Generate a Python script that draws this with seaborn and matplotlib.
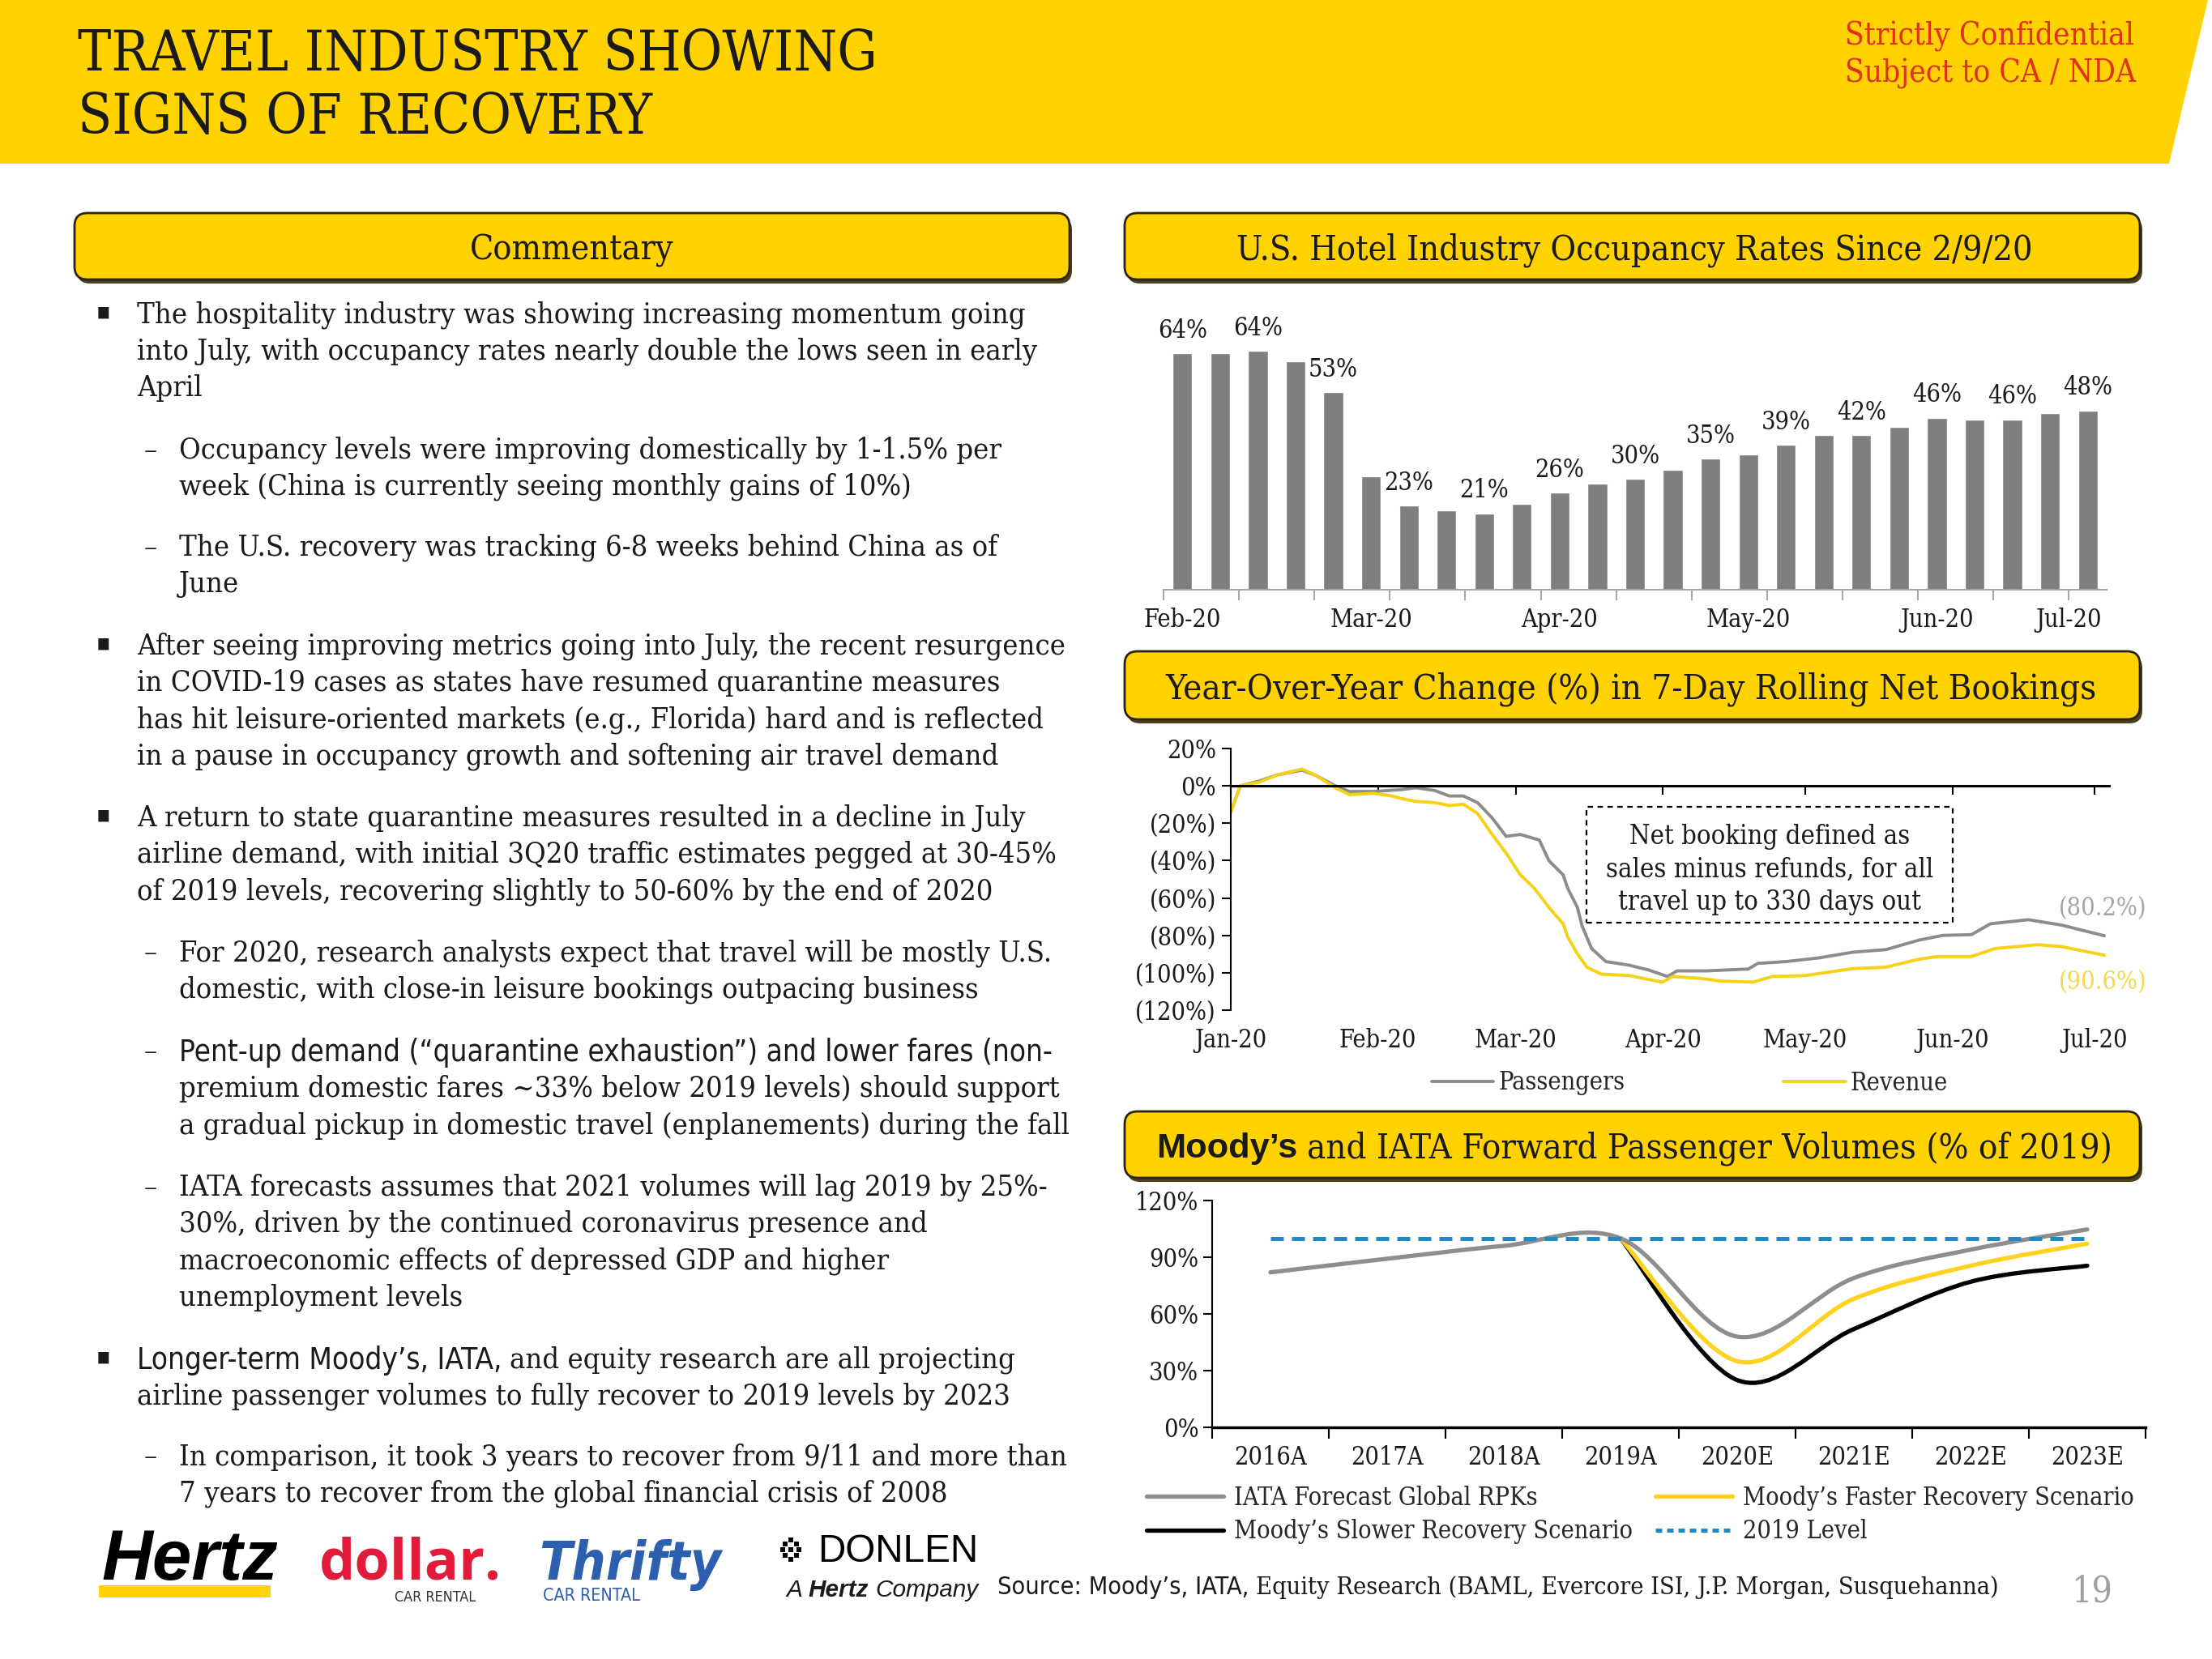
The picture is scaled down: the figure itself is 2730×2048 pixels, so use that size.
import os
import numpy as np
import pandas as pd
import matplotlib
matplotlib.use("Agg")
import matplotlib.pyplot as plt
import matplotlib.transforms as mtransforms
import matplotlib.dates as mdates
import matplotlib.font_manager as fm
from matplotlib.patches import FancyBboxPatch, Polygon, Rectangle, PathPatch
from matplotlib.path import Path
from matplotlib.lines import Line2D
import seaborn as sns

# ============================ DATA ============================
# U.S. hotel occupancy (weekly, since 2/9/20), %
hotel_periods = [f"Wk{i + 1}" for i in range(25)]
hotel_occ = [63.6, 63.6, 64.3, 61.5, 53.2, 30.5, 22.6, 21.3, 20.6, 23.1, 26.1, 28.6, 29.8,
             32.2, 35.3, 36.4, 39.0, 41.6, 41.6, 43.9, 46.3, 45.8, 45.8, 47.5, 48.2]
hotel_month_labels = ["Feb-20", "Mar-20", "Apr-20", "May-20", "Jun-20", "Jul-20"]

# YoY change in 7-day rolling net bookings, %
pass_dates = ["01-01", "01-03", "01-07", "01-11", "01-16", "01-19", "01-23", "01-26", "01-31",
              "02-03", "02-06", "02-09", "02-13", "02-16", "02-19", "02-22", "02-25", "02-28",
              "03-02", "03-06", "03-08", "03-11", "03-12", "03-14", "03-15", "03-17", "03-20",
              "03-25", "03-29", "04-02", "04-04", "04-10", "04-19", "04-21", "04-27", "05-04",
              "05-11", "05-18", "05-25", "05-30", "06-05", "06-09", "06-17", "06-24", "07-03"]
pass_vals = [-14, 0, 2.6, 6, 8.4, 5.5, 0, -3, -3,
             -2.5, -2, -1, -2.5, -5.4, -5.4, -9, -17, -27,
             -26, -29, -40, -47.6, -55, -65, -75, -87, -94,
             -96, -98.5, -102, -99, -99, -98, -95, -94, -92,
             -89, -87.6, -82.5, -80, -79.6, -73.8, -71.6, -74.5, -80.2]
rev_dates = ["01-01", "01-03", "01-07", "01-11", "01-16", "01-19", "01-23", "01-26", "01-31",
             "02-04", "02-06", "02-09", "02-13", "02-16", "02-19", "02-22", "02-25", "02-28",
             "03-02", "03-05", "03-08", "03-11", "03-12", "03-14", "03-16", "03-19", "03-25",
             "03-29", "04-01", "04-03", "04-09", "04-13", "04-20", "04-24", "05-01", "05-05",
             "05-11", "05-18", "05-25", "05-29", "06-05", "06-10", "06-19", "06-24", "07-03"]
rev_vals = [-14, 0, 2, 6, 9, 5.5, -1, -4.7, -4,
            -5.4, -6.8, -8.3, -9, -10.5, -9.8, -14.8, -25.8, -36,
            -47.6, -55, -65, -73.8, -81, -89.8, -97, -100.7, -101.5,
            -103.6, -105, -102, -103, -104.4, -105, -102, -101.5, -100,
            -97.8, -97, -92.7, -91.3, -91.3, -87, -85, -86, -90.6]
booking_months = ["2020-01-01", "2020-02-01", "2020-03-01", "2020-04-01",
                  "2020-05-01", "2020-06-01", "2020-07-01"]
booking_month_labels = ["Jan-20", "Feb-20", "Mar-20", "Apr-20", "May-20", "Jun-20", "Jul-20"]
booking_yticks = [20, 0, -20, -40, -60, -80, -100, -120]

# Moody's / IATA forward passenger volumes, % of 2019
years = ["2016A", "2017A", "2018A", "2019A", "2020E", "2021E", "2022E", "2023E"]
iata_rpk = [82, 89.2, 96, 100, 48, 79, 94, 104.7]
moodys_faster = [None, None, None, 100, 35, 68, 85.5, 97.2]
moodys_slower = [None, None, None, 100, 25, 52, 77, 85.5]
level_2019 = [100, 100, 100, 100, 100, 100, 100, 100]
volume_yticks = [0, 30, 60, 90, 120]

commentary = [
    (0, ["The hospitality industry was showing increasing momentum going",
         "into July, with occupancy rates nearly double the lows seen in early",
         "April"]),
    (1, ["Occupancy levels were improving domestically by 1-1.5% per",
         "week (China is currently seeing monthly gains of 10%)"]),
    (1, ["The U.S. recovery was tracking 6-8 weeks behind China as of",
         "June"]),
    (0, ["After seeing improving metrics going into July, the recent resurgence",
         "in COVID-19 cases as states have resumed quarantine measures",
         "has hit leisure-oriented markets (e.g., Florida) hard and is reflected",
         "in a pause in occupancy growth and softening air travel demand"]),
    (0, ["A return to state quarantine measures resulted in a decline in July",
         "airline demand, with initial 3Q20 traffic estimates pegged at 30-45%",
         "of 2019 levels, recovering slightly to 50-60% by the end of 2020"]),
    (1, ["For 2020, research analysts expect that travel will be mostly U.S.",
         "domestic, with close-in leisure bookings outpacing business"]),
    (1, ["Pent-up demand (\u201cquarantine exhaustion\u201d) and lower fares (non-",
         "premium domestic fares ~33% below 2019 levels) should support",
         "a gradual pickup in domestic travel (enplanements) during the fall"]),
    (1, ["IATA forecasts assumes that 2021 volumes will lag 2019 by 25%-",
         "30%, driven by the continued coronavirus presence and",
         "macroeconomic effects of depressed GDP and higher",
         "unemployment levels"]),
    (0, ["Longer-term Moody\u2019s, IATA, and equity research are all projecting",
         "airline passenger volumes to fully recover to 2019 levels by 2023"]),
    (1, ["In comparison, it took 3 years to recover from 9/11 and more than",
         "7 years to recover from the global financial crisis of 2008"]),
]
sans_full_line = "Pent-up demand (\u201cquarantine exhaustion\u201d) and lower fares (non-"
sans_prefix = "Longer-term Moody\u2019s, IATA,"

# ============================ STYLE ============================
YELLOW = "#FFD200"
BAR_GRAY = "#7F7F7F"
PASS_GRAY = "#8C8C8C"
REV_YELLOW = "#F7D117"
IATA_GRAY = "#8E8E8E"
FAST_YELLOW = "#FFD21E"
BLUE = "#1F88C6"
RED = "#E0301E"
TXT = "#1A1A1A"

sns.set_theme(style="white")


def _find(names):
    for f in fm.fontManager.ttflist:
        if os.path.basename(f.fname) in names:
            return f.fname
    return None


SERIF_FILE = _find({"DejaVuSerifCondensed.ttf"})
NARROW_FILE = _find({"LiberationSansNarrow-Regular.ttf"})
NARROW_FALLBACK = _find({"DejaVuSansCondensed.ttf"})


def SERIF(size):
    if SERIF_FILE:
        return fm.FontProperties(fname=SERIF_FILE, size=size)
    return fm.FontProperties(family="Liberation Serif", size=size)


def NARROW(size):
    f = NARROW_FILE or NARROW_FALLBACK
    if f:
        return fm.FontProperties(fname=f, size=size)
    return fm.FontProperties(family="Liberation Sans", size=size)


def SANS(size, weight="normal", style="normal", family="Liberation Sans"):
    return fm.FontProperties(family=family, size=size, weight=weight, style=style)


if SERIF_FILE:
    plt.rcParams["font.family"] = [fm.FontProperties(fname=SERIF_FILE).get_name(), "DejaVu Sans"]
    plt.rcParams["font.stretch"] = "condensed"
else:
    plt.rcParams["font.family"] = ["Liberation Serif", "DejaVu Sans"]

W, H = 2730, 2048
fig = plt.figure(figsize=(W / 100, H / 100), dpi=100)
fig.patch.set_facecolor("white")
PX = mtransforms.Affine2D().scale(0.01, -0.01).translate(0, H / 100) + fig.dpi_scale_trans
renderer = fig.canvas.get_renderer()


def ax_px(x0, y0, x1, y1):
    return fig.add_axes([x0 / W, 1 - y1 / H, (x1 - x0) / W, (y1 - y0) / H])


def fit(t, target):
    w = t.get_window_extent(renderer).width
    t.set_fontsize(t.get_fontsize() * target / w)
    return t.get_fontsize()


def place_runs(runs, y, target_w=None, x=None, center=None, va="center_baseline"):
    texts = [fig.text(0, y, s, fontproperties=fp, color=c, transform=PX,
                      ha="left", va=va, zorder=6) for s, fp, c in runs]

    def gaps():
        return [0] + [0.27 * t.get_fontsize() * 100 / 72 for t in texts[1:]]

    def widths():
        return [t.get_window_extent(renderer).width for t in texts]

    if target_w:
        k = target_w / (sum(widths()) + sum(gaps()))
        for t in texts:
            t.set_fontsize(t.get_fontsize() * k)
    ws, gs = widths(), gaps()
    total = sum(ws) + sum(gs)
    cx = x if x is not None else center - total / 2
    for t, w, g in zip(texts, ws, gs):
        cx += g
        t.set_x(cx)
        cx += w
    return texts


# ============================ HEADER ============================
fig.add_artist(Polygon([(0, 0), (2725, 0), (2677, 202), (0, 202)], closed=True,
                       transform=PX, facecolor=YELLOW, edgecolor="none", zorder=0))
t1 = fig.text(96, 87, "TRAVEL INDUSTRY SHOWING", transform=PX, fontproperties=SERIF(50),
              color=TXT, va="baseline", ha="left")
ts = fit(t1, 987)
fig.text(96, 165, "SIGNS OF RECOVERY", transform=PX, fontproperties=SERIF(ts),
         color=TXT, va="baseline", ha="left")
s1 = fig.text(2277, 55, "Strictly Confidential", transform=PX, fontproperties=SERIF(20),
              color=RED, va="baseline", ha="left")
ss = fit(s1, 357)
fig.text(2277, 102, "Subject to CA / NDA", transform=PX, fontproperties=SERIF(ss),
         color=RED, va="baseline", ha="left")


def header_box(x0, y0, x1, y1):
    fig.add_artist(FancyBboxPatch((x0 + 3, y0 + 5), x1 - x0, y1 - y0,
                                  boxstyle="round,pad=0,rounding_size=16", transform=PX,
                                  facecolor="#4d3f1c", edgecolor="none", zorder=1))
    fig.add_artist(FancyBboxPatch((x0, y0), x1 - x0, y1 - y0,
                                  boxstyle="round,pad=0,rounding_size=16", transform=PX,
                                  facecolor=YELLOW, edgecolor="#2d2410", linewidth=2, zorder=2))


header_box(92, 263, 1320, 345)
header_box(1388, 263, 2641, 345)
header_box(1388, 804, 2641, 888)
header_box(1388, 1372, 2641, 1454)

place_runs([("Commentary", SERIF(26), TXT)], 304, target_w=252, center=706)
place_runs([("U.S. Hotel Industry Occupancy Rates Since 2/9/20", SERIF(26), TXT)], 304,
           target_w=984, center=2017)
place_runs([("Year-Over-Year Change (%) in 7-Day Rolling Net Bookings", SERIF(26), TXT)], 846,
           target_w=1149, center=2013)
place_runs([("Moody\u2019s", SANS(26, weight="bold"), TXT),
            ("and IATA Forward Passenger Volumes (% of 2019)", SERIF(26), TXT)], 1413,
           target_w=1179, center=2017)

# ============================ COMMENTARY ============================
probe = fig.text(0, 0, commentary[0][1][0], fontproperties=SERIF(24), transform=PX)
COMM = fit(probe, 1099)
probe.remove()
probe = fig.text(0, 0, sans_full_line, fontproperties=NARROW(24), transform=PX)
COMM_SANS = fit(probe, 1081)
probe.remove()

para_first_y = [385, 552, 672, 794, 1006, 1173, 1295, 1462, 1675, 1795]
PITCH = 45.4
for (lvl, lines), y0 in zip(commentary, para_first_y):
    xt = 169 if lvl == 0 else 221
    if lvl == 0:
        fig.text(127, y0 - 2, "\u25aa", transform=PX, fontproperties=SANS(COMM * 0.8, family="DejaVu Sans"),
                 color=TXT, ha="center", va="center_baseline")
    else:
        fig.text(186, y0, "\u2013", transform=PX, fontproperties=SERIF(COMM),
                 color=TXT, ha="center", va="center_baseline")
    for j, line in enumerate(lines):
        y = y0 + j * PITCH
        if line == sans_full_line:
            fig.text(xt, y, line, transform=PX, fontproperties=NARROW(COMM_SANS),
                     color=TXT, ha="left", va="center_baseline")
        elif line.startswith(sans_prefix):
            place_runs([(sans_prefix, NARROW(COMM_SANS), TXT),
                        (line[len(sans_prefix):].strip(), SERIF(COMM), TXT)], y, x=xt)
        else:
            fig.text(xt, y, line, transform=PX, fontproperties=SERIF(COMM),
                     color=TXT, ha="left", va="center_baseline")

LBL = 22

# ============================ CHART 1: hotel occupancy ============================
ax1 = ax_px(1436, 384, 2600, 728)
sns.barplot(x=hotel_periods, y=hotel_occ, color=BAR_GRAY, width=0.52, saturation=1,
            errorbar=None, ax=ax1)
ax1.set_xlim(-0.5, len(hotel_occ) - 0.5)
ax1.set_ylim(0, 75)
for s in ["top", "right", "left"]:
    ax1.spines[s].set_visible(False)
ax1.spines["bottom"].set_color("#A6A6A6")
ax1.spines["bottom"].set_linewidth(1.5)
ax1.xaxis.remove_overlapping_locs = False
ax1.set_xticks(np.arange(-0.5, len(hotel_occ), 2))
ax1.set_xticklabels([])
ax1.tick_params(axis="x", which="major", length=9, width=1.5, color="#A6A6A6", direction="out", bottom=True)
ax1.set_xticks([0, 5, 10, 15, 20, 23.5], hotel_month_labels, minor=True)
ax1.tick_params(axis="x", which="minor", length=0, pad=16, labelsize=LBL, labelcolor=TXT)
ax1.set_yticks([])
ax1.set_xlabel("")
ax1.set_ylabel("")
for i in range(0, len(hotel_occ), 2):
    ax1.annotate(f"{hotel_occ[i]:.0f}%", (i, hotel_occ[i]), xytext=(0, 14), textcoords="offset points",
                 ha="center", va="baseline", fontproperties=SERIF(LBL), color=TXT)

# ============================ CHART 2: net bookings ============================
ax2 = ax_px(1519, 924, 2603, 1247)
p_dates = pd.to_datetime(["2020-" + d for d in pass_dates])
r_dates = pd.to_datetime(["2020-" + d for d in rev_dates])
sns.lineplot(x=p_dates, y=pass_vals, color=PASS_GRAY, linewidth=2.8, ax=ax2, label="Passengers")
sns.lineplot(x=r_dates, y=rev_vals, color=REV_YELLOW, linewidth=2.8, ax=ax2, label="Revenue")
h2, l2 = ax2.get_legend_handles_labels()
ax2.get_legend().remove()
ax2.set_xlim(pd.Timestamp("2020-01-01"), pd.Timestamp("2020-07-04"))
ax2.set_ylim(-120, 20)
ax2.spines["top"].set_visible(False)
ax2.spines["right"].set_visible(False)
ax2.spines["left"].set_color("black")
ax2.spines["left"].set_linewidth(1.5)
ax2.spines["bottom"].set_position(("data", 0))
ax2.spines["bottom"].set_color("black")
ax2.spines["bottom"].set_linewidth(2.2)
month_nums = mdates.date2num(pd.to_datetime(booking_months))
ax2.set_xticks(month_nums)
ax2.set_xticklabels([])
ax2.tick_params(axis="x", length=8, width=1.5, color="black", direction="out", bottom=True)
ax2.set_yticks(booking_yticks,
               [f"{v:.0f}%" if v >= 0 else f"({-v:.0f}%)" for v in booking_yticks])
ax2.tick_params(axis="y", length=8, width=1.5, color="black", direction="out", left=True,
                labelsize=LBL, labelcolor=TXT, pad=5)
ax2.set_xlabel("")
ax2.set_ylabel("")
bt = mtransforms.blended_transform_factory(ax2.transData, PX)
for xm, lab in zip(month_nums, booking_month_labels):
    ax2.text(xm, 1281, lab, transform=bt, ha="center", va="center_baseline",
             fontproperties=SERIF(LBL), color=TXT, clip_on=False)
bx0 = mdates.date2num(pd.Timestamp("2020-03-16"))
bx1 = mdates.date2num(pd.Timestamp("2020-06-01"))
ax2.add_patch(Rectangle((bx0, -73), bx1 - bx0, 62, fill=False, edgecolor="black",
                        linewidth=1.6, linestyle=(0, (3, 2.5))))
bxc = (bx0 + bx1) / 2
for yy, s in zip([-25.8, -43.2, -60.7],
                 ["Net booking defined as", "sales minus refunds, for all", "travel up to 330 days out"]):
    ax2.text(bxc, yy, s, ha="center", va="center_baseline", fontproperties=SERIF(23.5), color=TXT)
xend = mdates.date2num(pd.Timestamp("2020-07-02 14:00"))
ax2.text(xend, -64.3, f"({-pass_vals[-1]:.1f}%)", ha="center", va="center_baseline",
         fontproperties=SERIF(LBL), color="#A6A6A6", clip_on=False)
ax2.text(xend, -103.6, f"({-rev_vals[-1]:.1f}%)", ha="center", va="center_baseline",
         fontproperties=SERIF(LBL), color="#F5D84A", clip_on=False)
fig.legend(h2, l2, loc="center left", bbox_to_anchor=(1767, 1337), bbox_transform=PX, ncol=2,
           frameon=False, prop=SERIF(LBL), handlelength=2.5, handletextpad=0.2,
           columnspacing=6.4, borderpad=0, borderaxespad=0)

# ============================ CHART 3: forward volumes ============================
ax3 = ax_px(1496, 1482, 2648, 1762)
x3 = np.arange(len(years))


def smooth_path(xs, ys):
    pts = [(x, y) for x, y in zip(xs, ys) if y is not None]
    verts = [pts[0]]
    codes = [Path.MOVETO]
    for i in range(len(pts) - 1):
        p0 = pts[i - 1] if i > 0 else pts[i]
        p1, p2 = pts[i], pts[i + 1]
        p3 = pts[i + 2] if i + 2 < len(pts) else p2
        c1 = (p1[0] + (p2[0] - p0[0]) / 6, p1[1] + (p2[1] - p0[1]) / 6)
        c2 = (p2[0] - (p3[0] - p1[0]) / 6, p2[1] - (p3[1] - p1[1]) / 6)
        verts += [c1, c2, p2]
        codes += [Path.CURVE4] * 3
    return Path(verts, codes)


for vals, col, z in [(moodys_slower, "black", 3), (moodys_faster, FAST_YELLOW, 4), (iata_rpk, IATA_GRAY, 5)]:
    ax3.add_patch(PathPatch(smooth_path(x3, vals), fill=False, edgecolor=col, linewidth=3.8,
                            capstyle="round", joinstyle="round", zorder=z))
sns.lineplot(x=x3, y=level_2019, color=BLUE, linewidth=3.6, ax=ax3, zorder=6)
ax3.lines[-1].set_linestyle((0, (3.2, 2.0)))
ax3.set_xlim(-0.5, len(years) - 0.5)
ax3.set_ylim(0, 120)
ax3.spines["top"].set_visible(False)
ax3.spines["right"].set_visible(False)
ax3.spines["left"].set_color("black")
ax3.spines["left"].set_linewidth(1.5)
ax3.spines["bottom"].set_color("black")
ax3.spines["bottom"].set_linewidth(2.5)
ax3.xaxis.remove_overlapping_locs = False
ax3.set_xticks(np.arange(-0.5, len(years), 1))
ax3.set_xticklabels([])
ax3.tick_params(axis="x", which="major", length=10, width=1.5, color="black", direction="out", bottom=True)
ax3.set_xticks(x3, years, minor=True)
ax3.tick_params(axis="x", which="minor", length=0, pad=16, labelsize=LBL, labelcolor=TXT)
ax3.set_yticks(volume_yticks, [f"{v}%" for v in volume_yticks])
ax3.tick_params(axis="y", length=8, width=1.5, color="black", direction="out", left=True,
                labelsize=LBL, labelcolor=TXT, pad=4)
ax3.set_xlabel("")
ax3.set_ylabel("")
h3 = [Line2D([], [], color=IATA_GRAY, lw=3.8), Line2D([], [], color="black", lw=3.8),
      Line2D([], [], color=FAST_YELLOW, lw=3.8), Line2D([], [], color=BLUE, lw=3.6, ls=(0, (1.6, 1.2)))]
l3 = ["IATA Forecast Global RPKs", "Moody\u2019s Slower Recovery Scenario",
      "Moody\u2019s Faster Recovery Scenario", "2019 Level"]
fig.legend(h3, l3, loc="center left", bbox_to_anchor=(1415, 1870), bbox_transform=PX, ncol=2,
           frameon=False, prop=SERIF(LBL), handlelength=3.1, handletextpad=0.45,
           columnspacing=0.9, labelspacing=0.35, borderpad=0, borderaxespad=0)

for ax in [ax1, ax2, ax3]:
    for lbl in ax.get_xticklabels(minor=True) + ax.get_yticklabels():
        lbl.set_fontproperties(SERIF(LBL))

# ============================ FOOTER / LOGOS ============================
th = fig.text(125, 1950, "Hertz", transform=PX, fontproperties=SANS(60, weight="bold", style="italic"),
              color="black", ha="left", va="baseline")
fit(th, 218)
fig.add_artist(Rectangle((122, 1957), 212, 15, transform=PX, facecolor=YELLOW, edgecolor="none"))
td = fig.text(394, 1950, "dollar.", transform=PX, fontproperties=SANS(56, weight="bold", family="Open Sans"),
              color="#E31B3B", ha="left", va="baseline")
fit(td, 225)
tc = fig.text(487, 1970, "CAR RENTAL", transform=PX, fontproperties=NARROW(9), color="#333333",
              ha="left", va="center_baseline")
fit(tc, 100)
tt = fig.text(665, 1950, "Thrifty", transform=PX,
              fontproperties=SANS(48, weight="bold", style="italic", family="DejaVu Sans"),
              color="#2C5FAD", ha="left", va="baseline")
fit(tt, 225)
tc2 = fig.text(670, 1968, "CAR RENTAL", transform=PX, fontproperties=NARROW(10), color="#2C5FAD",
               ha="left", va="center_baseline")
fit(tc2, 120)
for dx, dy in [(0, -12), (0, 12), (-10, 0), (10, 0), (-7, -7), (7, -7), (-7, 7), (7, 7), (0, 0)]:
    fig.add_artist(Rectangle((976 + dx - 3, 1913 + dy - 3), 6, 6, transform=PX,
                             facecolor="black", edgecolor="none"))
tdn = fig.text(1009, 1928, "DONLEN", transform=PX, fontproperties=SANS(30), color="black",
               ha="left", va="baseline")
fit(tdn, 198)
place_runs([("A", SANS(18, style="italic"), TXT), ("Hertz", SANS(18, weight="bold", style="italic"), TXT),
            ("Company", SANS(18, style="italic"), TXT)], 1960, target_w=237, x=970)
place_runs([("Source: Moody\u2019s, IATA,", NARROW(20), TXT),
            ("Equity Research (BAML, Evercore ISI, J.P. Morgan, Susquehanna)", SERIF(20), TXT)],
           1957, target_w=1234, x=1231)
fig.text(2582, 1960, "19", transform=PX, fontproperties=SERIF(32), color="#A0A0A0",
         ha="center", va="center_baseline")

fig.savefig("out.png", dpi=100, facecolor="white")
